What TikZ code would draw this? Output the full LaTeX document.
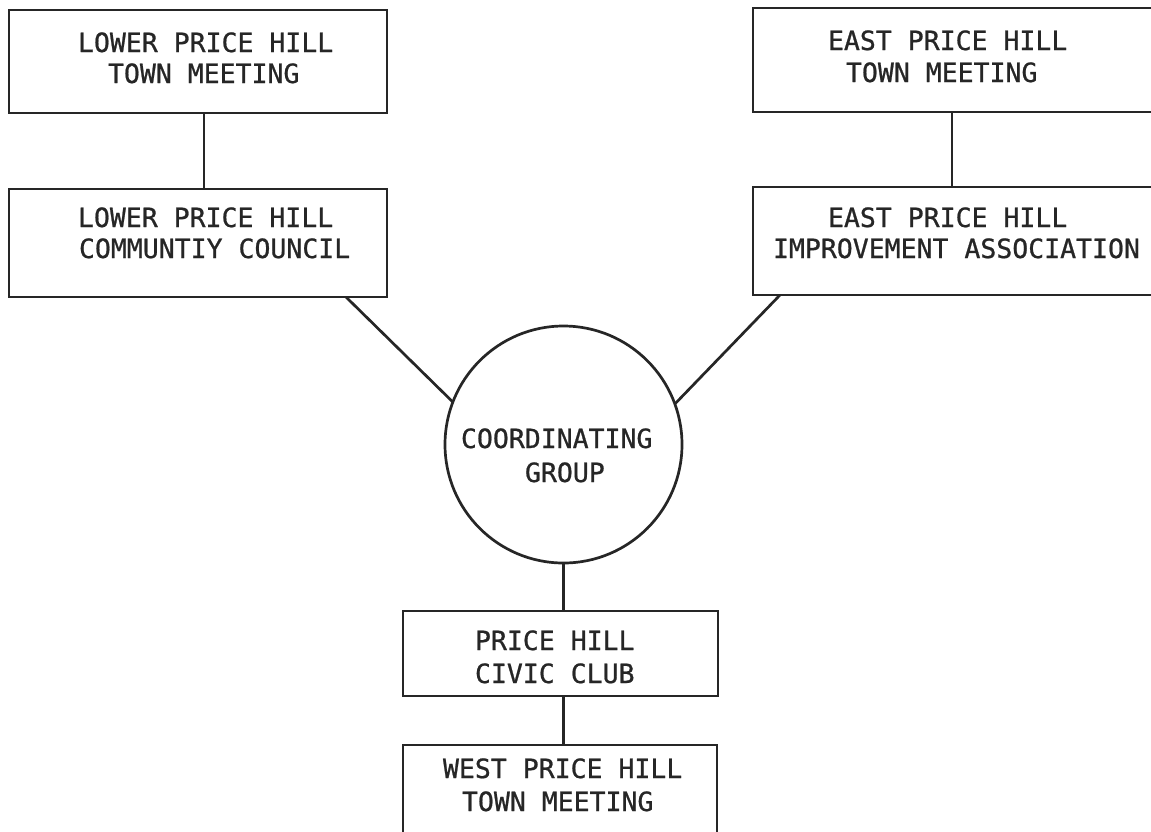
\documentclass[tikz,border=0pt]{standalone}
\usepackage{fontspec}
\newfontfamily\monofam[FakeBold=0.8]{DejaVu Sans Mono}
\definecolor{ink}{HTML}{262626}
\begin{document}
\begin{tikzpicture}[x=1pt,y=-1pt,
  box/.style={draw=ink, line width=2.9pt, rectangle, inner sep=0pt, outer sep=0pt},
  ring/.style={draw=ink, line width=2.7pt, circle, inner sep=0pt, outer sep=0pt},
  lbl/.style={anchor=base west, inner sep=0pt, outer sep=0pt, text=ink,
    font=\monofam\fontsize{26.5}{31}\selectfont},
  link/.style={draw=ink, line width=2.7pt}]
\clip (0,0) rectangle (1151,831);
\fill[white] (0,0) rectangle (1151,831);
% boxes
\node[box, minimum width=378pt, minimum height=103pt] (ltm) at (198,61.5) {};
\node[box, minimum width=378pt, minimum height=108pt] (lcc) at (198,243) {};
\node[box, minimum width=417pt, minimum height=104pt] (etm) at (961.5,60) {};
\node[box, minimum width=417pt, minimum height=108pt] (eia) at (961.5,241) {};
\node[ring, minimum size=237pt] (cg) at (563.5,444.5) {};
\node[box, minimum width=315pt, minimum height=85pt] (pcc) at (560.5,653.5) {};
\node[box, minimum width=314pt, minimum height=105pt] (wtm) at (560,797.5) {};
% texts
\node[lbl] (ltm1) at (78,52) {LOWER PRICE HILL};
\node[lbl] (ltm2) at (108,83) {TOWN MEETING};
\node[lbl] (lcc1) at (78,227) {LOWER PRICE HILL};
\node[lbl] (lcc2) at (79,258) {COMMUNTIY COUNCIL};
\node[lbl] (etm1) at (828,50) {EAST PRICE HILL};
\node[lbl] (etm2) at (846,82) {TOWN MEETING};
\node[lbl] (eia1) at (828,227) {EAST PRICE HILL};
\node[lbl] (eia2) at (773,258) {IMPROVEMENT ASSOCIATION};
\node[lbl] (cg1) at (461,448) {COORDINATING};
\node[lbl] (cg2) at (525,482) {GROUP};
\node[lbl] (pcc1) at (475,650) {PRICE HILL};
\node[lbl] (pcc2) at (475,683) {CIVIC CLUB};
\node[lbl] (wtm1) at (443,778) {WEST PRICE HILL};
\node[lbl] (wtm2) at (462,811) {TOWN MEETING};
% connectors
\draw[link] ([xshift=6pt]ltm.south) -- ([xshift=6pt]lcc.north);
\draw[link] ([xshift=-9.5pt]etm.south) -- ([xshift=-9.5pt]eia.north);
\draw[link] ([xshift=-41pt]lcc.south east) -- (cg.159.6);
\draw[link] ([xshift=27pt]eia.south west) -- (cg.20.9);
\draw[link] (cg.south) -- (cg.south |- pcc.north);
\draw[link] (cg.south |- pcc.south) -- (cg.south |- wtm.north);
\end{tikzpicture}
\end{document}
